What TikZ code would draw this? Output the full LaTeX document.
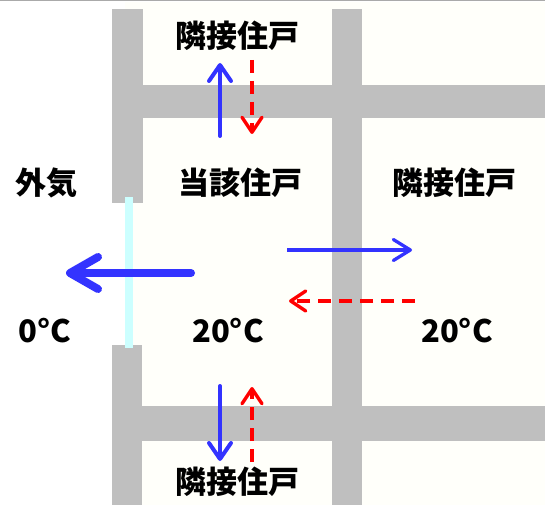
\documentclass[tikz,border=0pt]{standalone}
\usepackage{fontspec}
\setmainfont{Noto Sans CJK JP}
\usetikzlibrary{arrows.meta}
\definecolor{wallgray}{RGB}{191,191,191}
\definecolor{glasscyan}{RGB}{204,255,255}
\definecolor{flowblue}{RGB}{51,51,255}
\definecolor{cream}{RGB}{255,255,250}
\definecolor{rulegray}{RGB}{170,170,170}

\begin{document}
\begin{tikzpicture}[x=1pt,y=-1pt,
    label/.style={font=\fontsize{31}{31}\selectfont\bfseries,inner sep=0pt},
    wall/.style={fill=wallgray,draw=none},
    heat/.style={flowblue,line width=4pt,line cap=round,-{Straight Barb[length=16pt,width=22pt,round]}},
    back/.style={red,line width=3.4pt,dash pattern=on 13pt off 8pt,-{Straight Barb[length=15pt,width=20pt,round]}}]
        \useasboundingbox (0,0) rectangle (545,505);
        \fill[white] (0,0) rectangle (545,505);
        \fill[cream] (125,2) rectangle (545,505);
        \fill[rulegray] (0,0) rectangle (545,1.5);
        % walls
        \fill[wall] (112,9) rectangle (143,203);
        \fill[wall] (112,345) rectangle (142,505);
        \fill[wall] (143,85) rectangle (545,118);
        \fill[wall] (142,406) rectangle (545,441);
        \fill[wall] (332,9) rectangle (362,505);
        % window
        \fill[glasscyan] (125,197) rectangle (133,348);
        % labels
        \node[label] (upper) at (237,36) {隣接住戸};
        \node[label] (outside) at (46,183) {外気};
        \node[label] (room) at (240,183) {当該住戸};
        \node[label] (side) at (454,183) {隣接住戸};
        \node[label] (outsideT) at (45,331) {0°C};
        \node[label] (roomT) at (228,331) {20°C};
        \node[label] (sideT) at (457,331) {20°C};
        \node[label] (lower) at (237,482) {隣接住戸};
        % arrow ends
        \coordinate (upA) at (220,136);
        \coordinate (upB) at (220,63);
        \coordinate (upC) at (252,60);
        \coordinate (upD) at (252,134);
        \coordinate (winA) at (191,273);
        \coordinate (winB) at (66,273);
        \coordinate (sideA) at (287,250);
        \coordinate (sideB) at (412,250);
        \coordinate (sideC) at (415,301);
        \coordinate (sideD) at (289,301);
        \coordinate (lowA) at (220,386);
        \coordinate (lowB) at (220,461);
        \coordinate (lowC) at (252,462);
        \coordinate (lowD) at (252,387);
        % flows
        \draw[heat] (upA) -- (upB);
        \draw[back] (upC) -- (upD);
        \draw[heat,line width=8pt,-{Straight Barb[length=28pt,width=32pt,round]}] (winA) -- (winB);
        \draw[heat,line width=3.3pt,line cap=butt,-{Straight Barb[length=17pt,width=21pt,round]}] (sideA) -- (sideB);
        \draw[back] (sideC) -- (sideD);
        \draw[heat] (lowA) -- (lowB);
        \draw[back] (lowC) -- (lowD);
    \end{tikzpicture}
\end{document}
